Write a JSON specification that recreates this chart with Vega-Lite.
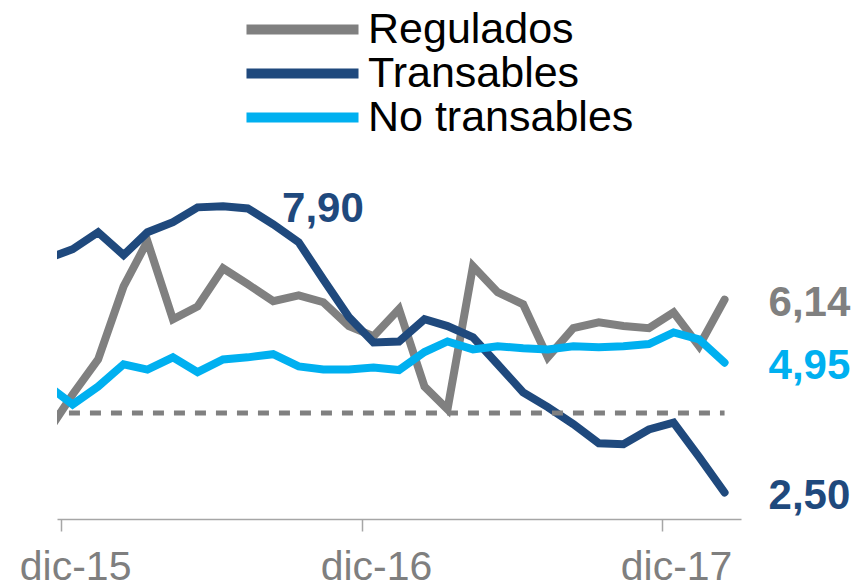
{
  "$schema": "https://vega.github.io/schema/vega-lite/v6.json",
  "width": 684,
  "height": 371,
  "autosize": "none",
  "padding": {"left": 57, "top": 148, "right": 120, "bottom": 69},
  "config": {
    "view": {"stroke": null},
    "font": "Liberation Sans"
  },
  "data": {"values": [
    {"fecha": "2015-11-15", "serie": "Regulados", "valor": 3.65},
    {"fecha": "2015-12-15", "serie": "Regulados", "valor": 4.35},
    {"fecha": "2016-01-15", "serie": "Regulados", "valor": 5.01},
    {"fecha": "2016-02-15", "serie": "Regulados", "valor": 6.39},
    {"fecha": "2016-03-15", "serie": "Regulados", "valor": 7.24},
    {"fecha": "2016-04-15", "serie": "Regulados", "valor": 5.77},
    {"fecha": "2016-05-15", "serie": "Regulados", "valor": 6.01},
    {"fecha": "2016-06-15", "serie": "Regulados", "valor": 6.73},
    {"fecha": "2016-07-15", "serie": "Regulados", "valor": 6.43},
    {"fecha": "2016-08-15", "serie": "Regulados", "valor": 6.11},
    {"fecha": "2016-09-15", "serie": "Regulados", "valor": 6.22},
    {"fecha": "2016-10-15", "serie": "Regulados", "valor": 6.09},
    {"fecha": "2016-11-15", "serie": "Regulados", "valor": 5.64},
    {"fecha": "2016-12-15", "serie": "Regulados", "valor": 5.45},
    {"fecha": "2017-01-15", "serie": "Regulados", "valor": 5.96},
    {"fecha": "2017-02-15", "serie": "Regulados", "valor": 4.50},
    {"fecha": "2017-03-15", "serie": "Regulados", "valor": 4.07},
    {"fecha": "2017-04-15", "serie": "Regulados", "valor": 6.77},
    {"fecha": "2017-05-15", "serie": "Regulados", "valor": 6.28},
    {"fecha": "2017-06-15", "serie": "Regulados", "valor": 6.05},
    {"fecha": "2017-07-15", "serie": "Regulados", "valor": 5.05},
    {"fecha": "2017-08-15", "serie": "Regulados", "valor": 5.60},
    {"fecha": "2017-09-15", "serie": "Regulados", "valor": 5.71},
    {"fecha": "2017-10-15", "serie": "Regulados", "valor": 5.64},
    {"fecha": "2017-11-15", "serie": "Regulados", "valor": 5.60},
    {"fecha": "2017-12-15", "serie": "Regulados", "valor": 5.90},
    {"fecha": "2018-01-15", "serie": "Regulados", "valor": 5.26},
    {"fecha": "2018-02-15", "serie": "Regulados", "valor": 6.14},
    {"fecha": "2015-11-15", "serie": "Transables", "valor": 6.92},
    {"fecha": "2015-12-15", "serie": "Transables", "valor": 7.09},
    {"fecha": "2016-01-15", "serie": "Transables", "valor": 7.41},
    {"fecha": "2016-02-15", "serie": "Transables", "valor": 6.98},
    {"fecha": "2016-03-15", "serie": "Transables", "valor": 7.41},
    {"fecha": "2016-04-15", "serie": "Transables", "valor": 7.60},
    {"fecha": "2016-05-15", "serie": "Transables", "valor": 7.88},
    {"fecha": "2016-06-15", "serie": "Transables", "valor": 7.90},
    {"fecha": "2016-07-15", "serie": "Transables", "valor": 7.86},
    {"fecha": "2016-08-15", "serie": "Transables", "valor": 7.56},
    {"fecha": "2016-09-15", "serie": "Transables", "valor": 7.22},
    {"fecha": "2016-10-15", "serie": "Transables", "valor": 6.52},
    {"fecha": "2016-11-15", "serie": "Transables", "valor": 5.81},
    {"fecha": "2016-12-15", "serie": "Transables", "valor": 5.33},
    {"fecha": "2017-01-15", "serie": "Transables", "valor": 5.35},
    {"fecha": "2017-02-15", "serie": "Transables", "valor": 5.77},
    {"fecha": "2017-03-15", "serie": "Transables", "valor": 5.64},
    {"fecha": "2017-04-15", "serie": "Transables", "valor": 5.43},
    {"fecha": "2017-05-15", "serie": "Transables", "valor": 4.92},
    {"fecha": "2017-06-15", "serie": "Transables", "valor": 4.39},
    {"fecha": "2017-07-15", "serie": "Transables", "valor": 4.11},
    {"fecha": "2017-08-15", "serie": "Transables", "valor": 3.79},
    {"fecha": "2017-09-15", "serie": "Transables", "valor": 3.43},
    {"fecha": "2017-10-15", "serie": "Transables", "valor": 3.41},
    {"fecha": "2017-11-15", "serie": "Transables", "valor": 3.69},
    {"fecha": "2017-12-15", "serie": "Transables", "valor": 3.82},
    {"fecha": "2018-01-15", "serie": "Transables", "valor": 3.17},
    {"fecha": "2018-02-15", "serie": "Transables", "valor": 2.50},
    {"fecha": "2015-11-15", "serie": "No transables", "valor": 4.52},
    {"fecha": "2015-12-15", "serie": "No transables", "valor": 4.16},
    {"fecha": "2016-01-15", "serie": "No transables", "valor": 4.50},
    {"fecha": "2016-02-15", "serie": "No transables", "valor": 4.92},
    {"fecha": "2016-03-15", "serie": "No transables", "valor": 4.82},
    {"fecha": "2016-04-15", "serie": "No transables", "valor": 5.05},
    {"fecha": "2016-05-15", "serie": "No transables", "valor": 4.77},
    {"fecha": "2016-06-15", "serie": "No transables", "valor": 5.01},
    {"fecha": "2016-07-15", "serie": "No transables", "valor": 5.05},
    {"fecha": "2016-08-15", "serie": "No transables", "valor": 5.11},
    {"fecha": "2016-09-15", "serie": "No transables", "valor": 4.88},
    {"fecha": "2016-10-15", "serie": "No transables", "valor": 4.82},
    {"fecha": "2016-11-15", "serie": "No transables", "valor": 4.82},
    {"fecha": "2016-12-15", "serie": "No transables", "valor": 4.86},
    {"fecha": "2017-01-15", "serie": "No transables", "valor": 4.81},
    {"fecha": "2017-02-15", "serie": "No transables", "valor": 5.15},
    {"fecha": "2017-03-15", "serie": "No transables", "valor": 5.35},
    {"fecha": "2017-04-15", "serie": "No transables", "valor": 5.20},
    {"fecha": "2017-05-15", "serie": "No transables", "valor": 5.26},
    {"fecha": "2017-06-15", "serie": "No transables", "valor": 5.22},
    {"fecha": "2017-07-15", "serie": "No transables", "valor": 5.20},
    {"fecha": "2017-08-15", "serie": "No transables", "valor": 5.26},
    {"fecha": "2017-09-15", "serie": "No transables", "valor": 5.24},
    {"fecha": "2017-10-15", "serie": "No transables", "valor": 5.26},
    {"fecha": "2017-11-15", "serie": "No transables", "valor": 5.30},
    {"fecha": "2017-12-15", "serie": "No transables", "valor": 5.52},
    {"fecha": "2018-01-15", "serie": "No transables", "valor": 5.39},
    {"fecha": "2018-02-15", "serie": "No transables", "valor": 4.95}
  ]},
  "layer": [
    {
      "mark": {"type": "line", "clip": true, "strokeWidth": 8, "strokeCap": "round"},
      "encoding": {
        "x": {
          "field": "fecha", "type": "temporal",
          "scale": {"domain": [1448496000000, 1520380800000]},
          "axis": {
            "title": null,
            "values": [1448928000000, 1480550400000, 1512086400000],
            "labelExpr": "'dic-' + utcFormat(datum.value, '%y')",
            "grid": false,
            "domainColor": "#A6A6A6",
            "domainWidth": 1.5,
            "tickColor": "#A6A6A6",
            "tickWidth": 1.5,
            "tickSize": 12,
            "labelFontSize": 41,
            "labelColor": "#7F7F7F",
            "labelPadding": 16,
            "labelOffset": 14,
            "labelFlush": false,
            "labelOverlap": false
          }
        },
        "y": {"field": "valor", "type": "quantitative", "scale": {"domain": [2, 9], "nice": false, "zero": false}, "axis": null},
        "color": {
          "field": "serie", "type": "nominal",
          "scale": {"domain": ["Regulados", "Transables", "No transables"], "range": ["#808080", "#1F497D", "#00B0F0"]},
          "legend": {
            "title": null,
            "orient": "none",
            "legendX": 224,
            "legendY": -140,
            "symbolType": "M-5,0H5",
            "symbolSize": 502,
            "symbolStrokeWidth": 10,
            "labelFontSize": 43,
            "labelColor": "#000000",
            "labelOffset": 44,
            "labelLimit": 0,
            "rowPadding": -2.5
          }
        }
      }
    },
    {
      "mark": {"type": "rule", "clip": true, "color": "#808080", "strokeWidth": 5, "strokeDash": [11, 10]},
      "encoding": {
        "x": {"aggregate": "min", "field": "fecha", "type": "temporal"},
        "x2": {"aggregate": "max", "field": "fecha"},
        "y": {"datum": 4}
      }
    },
    {
      "transform": [
        {"filter": "datum.serie == 'Transables' && datum.valor == 7.9"},
        {"calculate": "replace(format(datum.valor, '.2f'), '.', ',')", "as": "texto"}
      ],
      "mark": {"type": "text", "align": "left", "baseline": "alphabetic", "dx": 59, "dy": 16, "fontSize": 42, "fontWeight": "bold"},
      "encoding": {
        "x": {"field": "fecha", "type": "temporal"},
        "y": {"field": "valor", "type": "quantitative"},
        "text": {"field": "texto", "type": "nominal"},
        "color": {"field": "serie", "type": "nominal", "legend": null}
      }
    },
    {
      "transform": [
        {"filter": "year(datum.fecha) == 2018 && month(datum.fecha) == 1"},
        {"calculate": "replace(format(datum.valor, '.2f'), '.', ',')", "as": "texto"}
      ],
      "mark": {"type": "text", "align": "left", "baseline": "alphabetic", "dx": 44, "dy": 16, "fontSize": 42, "fontWeight": "bold"},
      "encoding": {
        "x": {"field": "fecha", "type": "temporal"},
        "y": {"field": "valor", "type": "quantitative"},
        "text": {"field": "texto", "type": "nominal"},
        "color": {"field": "serie", "type": "nominal", "legend": null}
      }
    }
  ]
}
